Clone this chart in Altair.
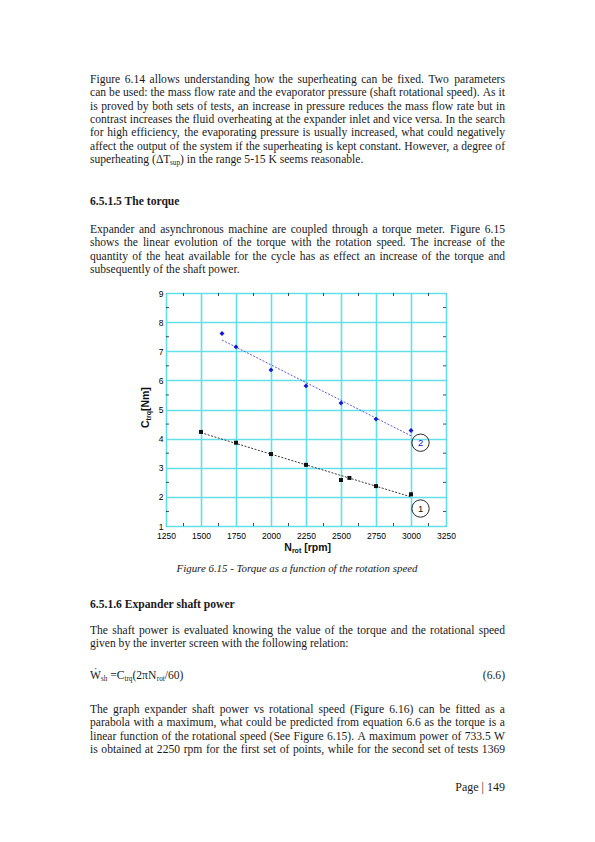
import altair as alt
import pandas as pd

# ---------------- chart data ----------------
RPM_1 = [1500, 1750, 2000, 2250, 2500, 2560, 2750, 3000]
TRQ_1 = [4.23, 3.86, 3.47, 3.10, 2.58, 2.65, 2.37, 2.09]
RPM_2 = [1650, 1750, 2000, 2250, 2500, 2750, 3000]
TRQ_2 = [7.61, 7.15, 6.36, 5.81, 5.22, 4.67, 4.28]

X_TICKS = [1250, 1500, 1750, 2000, 2250, 2500, 2750, 3000, 3250]
Y_TICKS = [1, 2, 3, 4, 5, 6, 7, 8, 9]
X_MINOR = [1375, 1625, 1875, 2125, 2375, 2625, 2875, 3125]
Y_MINOR = [1.5, 2.5, 3.5, 4.5, 5.5, 6.5, 7.5, 8.5]

LABEL_IDS = ["1", "2"]
LABEL_RPM = [3068, 3068]
LABEL_TRQ = [1.60, 3.86]
LABEL_COLORS = ["#111111", "#1515d8"]

# ---------------- page text ----------------
PARA_1 = [
    "Figure 6.14 allows understanding how the superheating can be fixed. Two parameters",
    "can be used: the mass flow rate and the evaporator pressure (shaft rotational speed). As it",
    "is proved by both sets of tests, an increase in pressure reduces the mass flow rate but in",
    "contrast increases the fluid overheating at the expander inlet and vice versa. In the search",
    "for high efficiency, the evaporating pressure is usually increased, what could negatively",
    "affect the output of the system if the superheating is kept constant. However, a degree of",
]
PARA_1_LAST = [("superheating (\u0394T", "n"), ("sup", "s"), (") in the range 5-15 K seems reasonable.", "n")]
HEAD_1 = "6.5.1.5 The torque"
PARA_2 = [
    "Expander and asynchronous machine are coupled through a torque meter. Figure 6.15",
    "shows the linear evolution of the torque with the rotation speed. The increase of the",
    "quantity of the heat available for the cycle has as effect an increase of the torque and",
]
PARA_2_LAST = "subsequently of the shaft power."
CAPTION = "Figure 6.15 - Torque as a function of the rotation speed"
HEAD_2 = "6.5.1.6 Expander shaft power"
PARA_3 = [
    "The shaft power is evaluated knowing the value of the torque and the rotational speed",
]
PARA_3_LAST = "given by the inverter screen with the following relation:"
EQUATION = [("\u1e86", "n"), ("sh", "s"), (" =C", "n"), ("trq", "s"), ("(2\u03c0N", "n"), ("rot", "s"), ("/60)", "n")]
EQ_NUMBER = "(6.6)"
PARA_4 = [
    "The graph expander shaft power vs rotational speed (Figure 6.16) can be fitted as a",
    "parabola with a maximum, what could be predicted from equation 6.6 as the torque is a",
    "linear function of the rotational speed (See Figure 6.15). A maximum power of 733.5 W",
    "is obtained at 2250 rpm for the first set of points, while for the second set of tests 1369",
]
PAGE_NO = "Page | 149"

X_TITLE = [("N", "n"), ("rot", "s"), (" [rpm]", "n")]
Y_TITLE = [("C", "n"), ("trq", "s"), ("[Nm]", "n")]

# ---------------- layout helpers (text metrics) ----------------
TIMES = {' ': 250, '!': 333, '"': 408, "'": 180, '(': 333, ')': 333, ',': 250, '-': 333,
         '.': 250, '/': 278, ':': 278, ';': 278, '=': 564, '|': 200, '\u0394': 612,
         '\u03c0': 549, '\u1e86': 944}
for c in "0123456789":
    TIMES[c] = 500
TIMES.update(dict(zip("ABCDEFGHIJKLMNOPQRSTUVWXYZ",
                      [722, 667, 667, 722, 611, 556, 722, 722, 333, 389, 722, 611, 889,
                       722, 722, 556, 722, 667, 556, 611, 722, 722, 944, 722, 722, 611])))
TIMES.update(dict(zip("abcdefghijklmnopqrstuvwxyz",
                      [444, 500, 444, 500, 444, 333, 500, 500, 278, 278, 500, 278, 778,
                       500, 500, 500, 500, 333, 389, 278, 500, 500, 722, 500, 500, 444])))
ARIAL_B = {'C': 722, 'N': 722, '[': 333, ']': 333, 'm': 889, 'r': 389, 'o': 611,
           't': 333, 'q': 611, 'p': 611, ' ': 278}


def tw(s, table=TIMES):
    return sum(table.get(c, 500) for c in s) / 1000.0


OX, OY = 166, 293          # page position of the plot origin
W, H = 280, 233            # plot area
LEFT, RIGHT = 90, 505      # text block
LS = 13.35                 # line spacing

justified = PARA_1 + PARA_2 + PARA_3 + PARA_4
FS = min(11.6, min(0.995 * (RIGHT - LEFT) / tw(l) for l in justified))
SUB = 0.62

rows = []        # roman serif text (left aligned)


def add_justified(line, y):
    words = line.split(" ")
    ws = [tw(w) * FS for w in words]
    gap = (RIGHT - LEFT - sum(ws)) / (len(words) - 1)
    x = LEFT
    for w, wd in zip(words, ws):
        rows.append(dict(px=x - OX, py=y - OY, text=w, sz=FS))
        x += wd + gap


def run_rows(runs, x, y, fs, table, sub_shift, rotate=False):
    out = []
    for t, k in runs:
        size = fs if k == "n" else fs * SUB
        lead = len(t) - len(t.lstrip(" "))
        adv0 = tw(" " * lead, table) * size
        t = t.strip(" ")
        shift = 0 if k == "n" else sub_shift
        if rotate:
            out.append(dict(px=x + shift - OX, py=y - adv0 - OY, text=t, sz=size))
            y -= adv0 + tw(t, table) * size
        else:
            out.append(dict(px=x + adv0 - OX, py=y + shift - OY, text=t, sz=size))
            x += adv0 + tw(t, table) * size
    return out


def add_runs(runs, x, y, fs=FS):
    rows.extend(run_rows(runs, x, y, fs, TIMES, fs * 0.28))


y = 80
for l in PARA_1:
    add_justified(l, y)
    y += LS
add_runs(PARA_1_LAST, LEFT, y)
y = 230
for l in PARA_2:
    add_justified(l, y)
    y += LS
add_runs([(PARA_2_LAST, "n")], LEFT, y)
y = 631
for l in PARA_3:
    add_justified(l, y)
    y += LS
add_runs([(PARA_3_LAST, "n")], LEFT, y)
add_runs(EQUATION, LEFT, 676)
y = 710
for l in PARA_4:
    add_justified(l, y)
    y += LS

body_df = pd.DataFrame(rows)
right_df = pd.DataFrame([dict(px=RIGHT - OX, py=676 - OY, text=EQ_NUMBER, sz=FS),
                         dict(px=RIGHT - OX, py=786.7 - OY, text=PAGE_NO, sz=12.0)])
head_df = pd.DataFrame([dict(px=LEFT - OX, py=201.7 - OY, text=HEAD_1),
                        dict(px=LEFT - OX, py=605 - OY, text=HEAD_2)])
cap_size = 241.0 / tw(CAPTION)
cap_df = pd.DataFrame([dict(px=297 - OX, py=569 - OY, text=CAPTION)])

# axis titles (bold sans with subscripts)
TFS = 10.5
SUB = 0.667
xt_df = pd.DataFrame(run_rows(X_TITLE, 284.3, 548, TFS, ARIAL_B, 3.0))
yt_df = pd.DataFrame(run_rows(Y_TITLE, 146, 428, TFS, ARIAL_B, 3.0, rotate=True))

# ---------------- chart ----------------
GRID = "#62dfe8"
x_enc = alt.X("rpm:Q", scale=alt.Scale(domain=[1250, 3250], nice=False, zero=False),
              axis=alt.Axis(values=X_TICKS, grid=True, gridColor=GRID, gridWidth=1.6,
                            gridOpacity=1, ticks=False, domain=False, title=None,
                            labelFont="Liberation Sans", labelFontSize=8.5,
                            labelColor="black", labelPadding=5, labelFlush=False,
                            labelOverlap=False, format="d"))
y_enc = alt.Y("trq:Q", scale=alt.Scale(domain=[1, 9], nice=False, zero=False),
              axis=alt.Axis(values=Y_TICKS, grid=True, gridColor=GRID, gridWidth=1.6,
                            gridOpacity=1, ticks=False, domain=False, title=None,
                            labelFont="Liberation Sans", labelFontSize=8.5,
                            labelColor="black", labelPadding=3, labelFlush=False,
                            labelOverlap=False, format="d"))

s1 = pd.DataFrame({"rpm": RPM_1, "trq": TRQ_1})
s2 = pd.DataFrame({"rpm": RPM_2, "trq": TRQ_2})
xm = pd.DataFrame({"rpm": X_MINOR})
ym = pd.DataFrame({"trq": Y_MINOR})
lab = pd.DataFrame({"rpm": LABEL_RPM, "trq": LABEL_TRQ, "id": LABEL_IDS, "c": LABEL_COLORS})

TL = 3.0
ticks_top = alt.Chart(xm).mark_rule(color="black", strokeWidth=0.7).encode(
    x=x_enc, y=alt.value(0), y2=alt.value(TL))
ticks_bot = alt.Chart(xm).mark_rule(color="black", strokeWidth=0.7).encode(
    x=x_enc, y=alt.value(H - TL), y2=alt.value(H))
ticks_left = alt.Chart(ym).mark_rule(color="black", strokeWidth=0.7).encode(
    y=y_enc, x=alt.value(0), x2=alt.value(TL))
ticks_right = alt.Chart(ym).mark_rule(color="black", strokeWidth=0.7).encode(
    y=y_enc, x=alt.value(W - TL), x2=alt.value(W))

fit1 = alt.Chart(s1).transform_regression("rpm", "trq").mark_line(
    color="#222222", strokeWidth=0.9, strokeDash=[2, 1.5]).encode(x=x_enc, y=y_enc)
fit2 = alt.Chart(s2).transform_regression("rpm", "trq").mark_line(
    color="#4a4ad8", strokeWidth=0.9, strokeDash=[2, 1.5]).encode(x=x_enc, y=y_enc)
pts1 = alt.Chart(s1).mark_point(shape="square", filled=True, size=16, color="#111111",
                                opacity=1).encode(x=x_enc, y=y_enc)
pts2 = alt.Chart(s2).mark_point(shape="diamond", filled=True, size=24, color="#1515d8",
                                opacity=1).encode(x=x_enc, y=y_enc)
circ = alt.Chart(lab).mark_point(shape="circle", filled=False, size=300, color="#111111",
                                 strokeWidth=0.9, opacity=1).encode(x=x_enc, y=y_enc)
ids = alt.Chart(lab).mark_text(font="Liberation Sans", fontSize=9.5, baseline="middle",
                               align="center").encode(
    x=x_enc, y=y_enc, text="id:N", color=alt.Color("c:N", scale=None))

main = alt.layer(ticks_top, ticks_bot, ticks_left, ticks_right, fit1, fit2, pts1, pts2,
                 circ, ids)


def pos(df):
    return alt.Chart(df).encode(
        x=alt.X("px:Q", scale=None, axis=None),
        y=alt.Y("py:Q", scale=None, axis=None),
        text="text:N")


body = pos(body_df).mark_text(font="Liberation Serif", align="left", baseline="middle",
                              color="#1a1a1a").encode(size=alt.Size("sz:Q", scale=None))
right = pos(right_df).mark_text(font="Liberation Serif", align="right", baseline="middle",
                                color="#1a1a1a").encode(size=alt.Size("sz:Q", scale=None))
heads = pos(head_df).mark_text(font="Liberation Serif", fontWeight="bold", fontSize=11.6,
                               align="left", baseline="middle", color="#1a1a1a")
cap = pos(cap_df).mark_text(font="Liberation Serif", fontStyle="italic", fontSize=cap_size,
                            align="center", baseline="middle", color="#1a1a1a")
xt = pos(xt_df).mark_text(font="Liberation Sans", fontWeight="bold", align="left",
                          baseline="middle", color="#111111").encode(
    size=alt.Size("sz:Q", scale=None))
yt = pos(yt_df).mark_text(font="Liberation Sans", fontWeight="bold", align="left",
                          baseline="middle", angle=270, color="#111111").encode(
    size=alt.Size("sz:Q", scale=None))

chart = alt.layer(main, body, right, heads, cap, xt, yt).resolve_scale(
    x="independent", y="independent"
).properties(
    width=W, height=H,
    autosize=alt.AutoSizeParams(type="none"),
    padding={"left": OX - 8, "top": OY - 8, "right": 579 - (OX - 8) - W,
             "bottom": 826 - (OY - 8) - H},
    background="white",
).configure_view(stroke="black", strokeWidth=1)

chart.save("out.html", embed_options={"renderer": "svg", "actions": False})
